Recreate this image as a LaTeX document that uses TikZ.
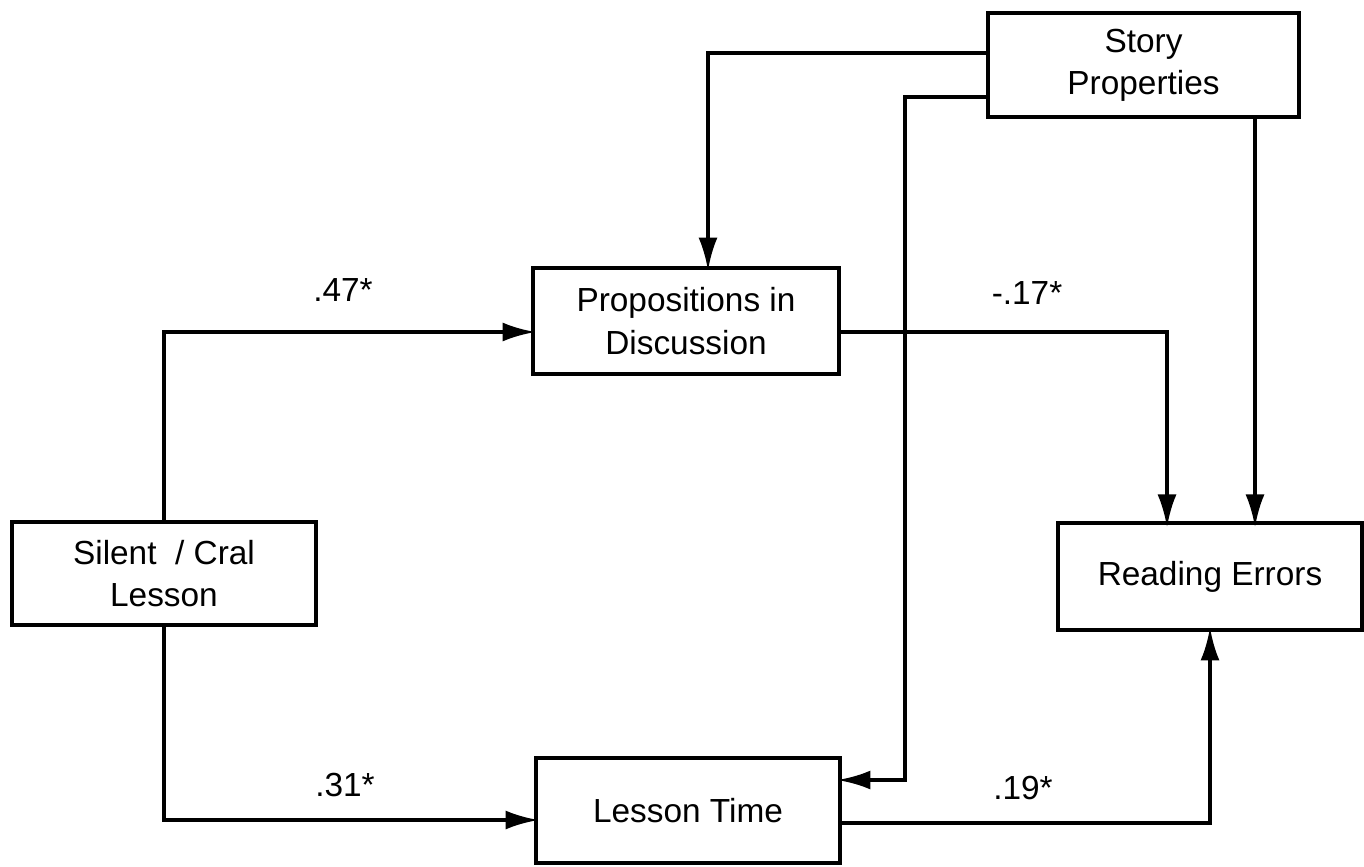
\documentclass[tikz,border=0pt]{standalone}
\usepackage{fontspec}
\setmainfont{Liberation Sans}
\usetikzlibrary{arrows.meta}
\begin{document}
\begin{tikzpicture}[x=0.02cm,y=-0.02cm,
  box/.style={draw,line width=2.1pt,align=center,inner sep=0pt,font=\fontsize{19}{24}\selectfont},
  arr/.style={line width=2.1pt,shorten >=-2.5pt,-{Latex[length=0.66cm,width=0.38cm]}},
  coef/.style={font=\fontsize{19}{22}\selectfont}]
\useasboundingbox (0,0) rectangle (1364,866);
% variables
\node[box,minimum width=6.22cm,minimum height=2.08cm] (story)   at (1143.5,65)  {Story\\Properties};
\node[box,minimum width=6.12cm,minimum height=2.12cm] (prop)    at (686,321)    {Propositions in\\Discussion};
\node[box,minimum width=6.08cm,minimum height=2.06cm] (silent)  at (164,573.5)  {Silent\ \ / Cral\\Lesson};
\node[box,minimum width=6.08cm,minimum height=2.14cm] (reading) at (1210,576.5) {Reading Errors};
\node[box,minimum width=6.08cm,minimum height=2.10cm] (lesson)  at (688,810.5)  {Lesson Time};
% bend points
\coordinate (tjoin) at (905,780);
\coordinate (rtopA) at (1167,523);
\coordinate (rtopB) at (1255,523);
% paths
\draw[arr] (silent.north) |- ([yshift=-0.22cm]prop.west);
\draw[arr] (silent.south) |- ([yshift=-0.19cm]lesson.west);
\draw[arr] ([yshift=0.24cm]story.west) -| ([xshift=0.44cm]prop.north);
\draw[arr] ([yshift=-0.64cm]story.west) -| (tjoin) -- ([yshift=0.61cm]lesson.east);
\draw[arr] (story.south -| rtopB) -- (rtopB);
\draw[arr] ([yshift=-0.22cm]prop.east) -| (rtopA);
\draw[arr] ([yshift=-0.25cm]lesson.east) -| (reading.south);
% path coefficients
\node[coef] (c47) at (343,290) {.47*};
\node[coef] (c17) at (1027,293) {-.17*};
\node[coef] (c31) at (345,785) {.31*};
\node[coef] (c19) at (1023,788) {.19*};
\end{tikzpicture}
\end{document}
